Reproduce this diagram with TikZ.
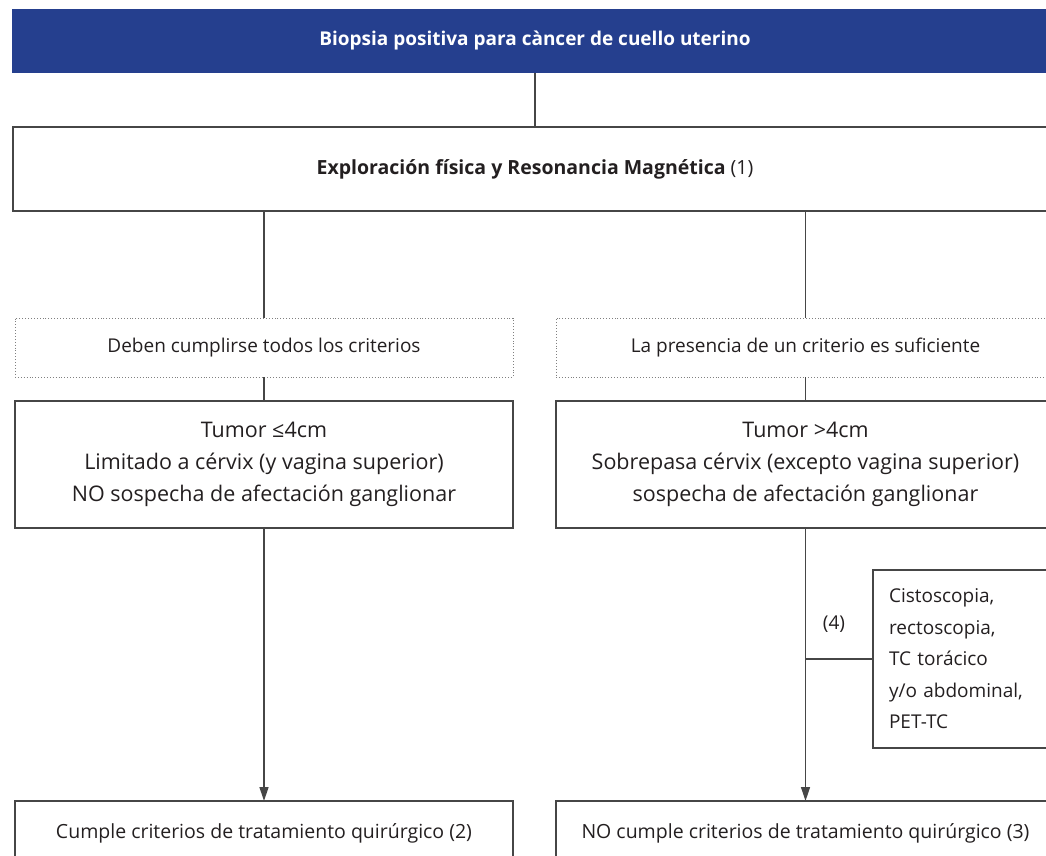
\documentclass[tikz,border=0pt]{standalone}
\usepackage{fontspec}
\setmainfont{Open Sans}
\usetikzlibrary{arrows.meta,calc}
\definecolor{barblue}{RGB}{37,63,142}
\definecolor{ink}{RGB}{35,31,32}
\definecolor{linegray}{RGB}{70,70,70}
\begin{document}
\begin{tikzpicture}[x=1pt,y=-1pt,
  font=\fontsize{19.5}{24}\selectfont,
  every node/.style={text=ink, inner sep=0pt, outer sep=0pt},
  solidbox/.style={draw=linegray, line width=1.3pt, align=center},
  dotbox/.style={draw=gray, line width=0.9pt, dotted, align=center},
  bigtext/.style={font=\fontsize{21.5}{32}\selectfont},
  conn/.style={draw=linegray, line width=1.3pt},
  arr/.style={conn, -{Triangle[length=14pt,width=9pt]}}
]
\path[use as bounding box] (0,0) rectangle (1046,856);
\clip (0,0) rectangle (1046,856);

% top bar
\node[fill=barblue, minimum width=1046pt, minimum height=64pt, text=white,
      font=\fontsize{19}{24}\selectfont\bfseries] (bar) at (535,41)
      {Biopsia positiva para càncer de cuello uterino};

% exploration box
\node[solidbox, minimum width=1044pt, minimum height=84pt] (expl) at (535,169)
      {\textbf{Exploración física y Resonancia Magnética} (1)};

% dotted criteria boxes
\node[dotbox, minimum width=498pt, minimum height=59pt, font=\fontsize{19}{24}\selectfont] (dl) at (264,347.5)
      {Deben cumplirse todos los criterios};
\node[dotbox, minimum width=499pt, minimum height=59pt, font=\fontsize{19}{24}\selectfont] (dr) at (805.5,347.5)
      {La presencia de un criterio es suficiente};

% tumor boxes
\node[solidbox, bigtext, minimum width=498pt, minimum height=127pt] (tl) at (264,464.5)
      {Tumor ≤4cm\\Limitado a cérvix (y vagina superior)\\NO sospecha de afectación ganglionar};
\node[solidbox, bigtext, minimum width=499pt, minimum height=127pt] (tr) at (805.5,464.5)
      {Tumor >4cm\\Sobrepasa cérvix (excepto vagina superior)\\sospecha de afectación ganglionar};

% side box
\node[solidbox, minimum width=220pt, minimum height=178pt, anchor=west,
      align=left, text width=188pt, inner xsep=16pt, font=\fontsize{19}{31.5}\selectfont] (side) at (873,659)
      {Cistoscopia,\\rectoscopia,\\TC torácico\\y/o abdominal,\\PET-TC};

% bottom boxes
\node[solidbox, minimum width=498pt, minimum height=64pt] (bl) at (264,833)
      {Cumple criterios de tratamiento quirúrgico (2)};
\node[solidbox, minimum width=499pt, minimum height=64pt] (br) at (805.5,833)
      {NO cumple criterios de tratamiento quirúrgico (3)};

% connectors
\draw[conn] (bar.south) -- (expl.north);
\draw[conn] (expl.south -| dl.north) -- (dl.north);
\draw[conn] (expl.south -| dr.north) -- (dr.north);
\draw[conn] (dl.south) -- (tl.north);
\draw[conn] (dr.south) -- (tr.north);
\draw[arr] (tl.south) -- (bl.north);
\draw[arr] (tr.south) -- (br.north);
\coordinate (junc) at (side.west -| tr.south);
\draw[conn] (junc) -- (side.west);
\node[font=\fontsize{19}{24}\selectfont] (lab4) at (834,624) {(4)};
\end{tikzpicture}
\end{document}
